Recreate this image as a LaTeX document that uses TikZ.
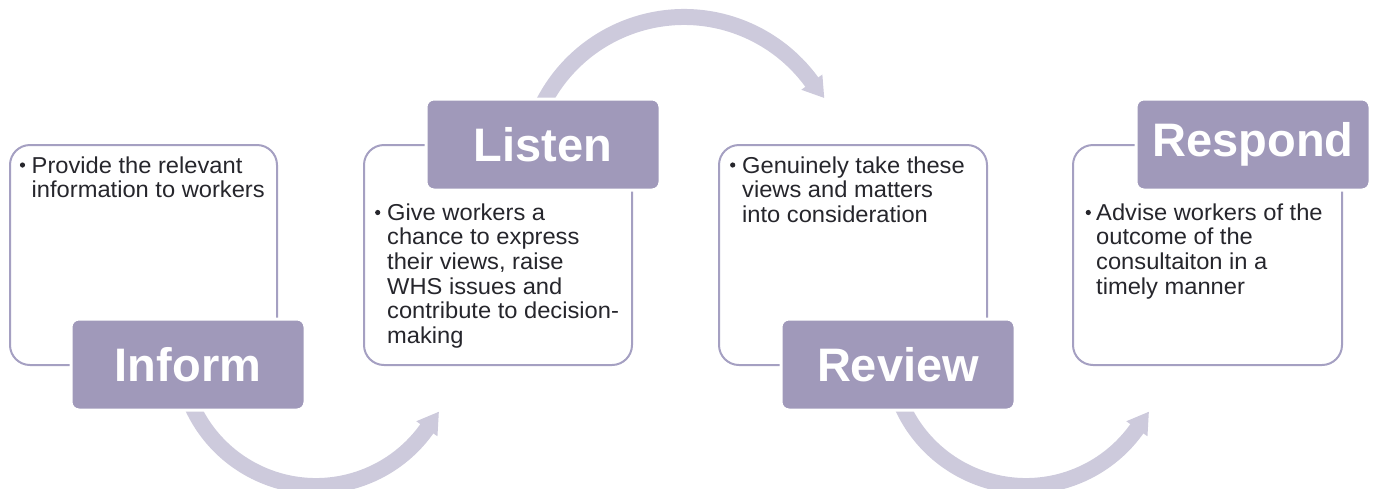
\documentclass[tikz,border=0pt]{standalone}
\usepackage{fontspec}
\setmainfont{Liberation Sans}
\newfontfamily\bodyfam[FakeStretch=1.03]{Liberation Sans}
\definecolor{lav}{RGB}{160,153,186}
\definecolor{lavline}{RGB}{165,160,194}
\definecolor{arrcol}{RGB}{205,202,220}
\definecolor{txt}{RGB}{38,38,44}
\begin{document}
\begin{tikzpicture}[x=1pt,y=-1pt,
  panel/.style={draw=lavline, line width=2pt, fill=white, rounded corners=20pt, inner sep=0pt},
  tag/.style={fill=lav, draw=white, line width=3pt, rounded corners=8pt, text=white, inner sep=0pt,
    minimum width=234pt, minimum height=91pt, font=\fontsize{47}{56}\selectfont\bfseries},
  body/.style={anchor=north west, inner sep=0pt, align=left, text=txt, font=\bodyfam\fontsize{23}{24.6}\selectfont},
  band/.style={draw=arrcol, line width=16pt},
  bul/.style={fill=txt},
]
\useasboundingbox (0,0) rectangle (1375,488);

% curved arrows (behind everything)
\begin{scope}[shift={(316,350)}]
  \draw[band] (160:136) arc[start angle=160, end angle=34, radius=136];
  \fill[arrcol] (35.4:123) -- (26.7:137.5) -- (35.4:149) -- cycle;
\end{scope}
\begin{scope}[shift={(684,175)}]
  \draw[band] (-155:158) arc[start angle=-155, end angle=-35, radius=158];
  \fill[arrcol] (-36:145) -- (-28.8:160) -- (-36:171) -- cycle;
\end{scope}
\begin{scope}[shift={(1026,350)}]
  \draw[band] (160:136) arc[start angle=160, end angle=34, radius=136];
  \fill[arrcol] (35.4:123) -- (26.7:137.5) -- (35.4:149) -- cycle;
\end{scope}

% panels
\node[panel, minimum width=267pt, minimum height=220pt] (b1) at (143.5,255) {};
\node[panel, minimum width=268pt, minimum height=220pt] (b2) at (498,255) {};
\node[panel, minimum width=268pt, minimum height=220pt] (b3) at (853,255) {};
\node[panel, minimum width=269pt, minimum height=220pt] (b4) at (1207.5,255) {};

% labels
\node[tag] (l1) at (188,364.5) {Inform};
\node[tag] (l2) at (543,144.5) {Listen};
\node[tag] (l3) at (898,364.5) {Review};
\node[tag] (l4) at (1253,144.5) {Respond};

% bullets and texts
\fill[bul] (22.5,165) circle (2.6);
\node[body] (t1) at (31.5,155) {\rule{0pt}{18pt}Provide the relevant\\information to workers};
\fill[bul] (377.7,212.5) circle (2.6);
\node[body] (t2) at (387,202) {\rule{0pt}{18pt}Give workers a\\chance to express\\their views, raise\\WHS issues and\\contribute to decision-\\making};
\fill[bul] (732.7,165) circle (2.6);
\node[body] (t3) at (742,155) {\rule{0pt}{18pt}Genuinely take these\\views and matters\\into consideration};
\fill[bul] (1088.3,212.5) circle (2.6);
\node[body] (t4) at (1096,202) {\rule{0pt}{18pt}Advise workers of the\\outcome of the\\consultaiton in a\\timely manner};
\end{tikzpicture}
\end{document}
